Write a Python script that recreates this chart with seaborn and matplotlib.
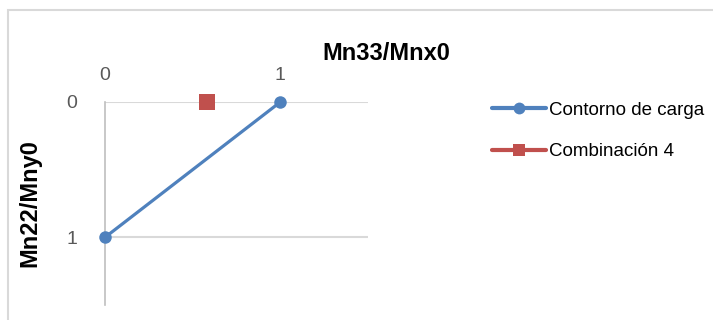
import matplotlib
matplotlib.use("Agg")
import matplotlib.pyplot as plt
import seaborn as sns
import pandas as pd
from matplotlib.patches import Rectangle

# Data
contorno_x = [0, 1]
contorno_y = [1, 0]
comb_x = [0.58]
comb_y = [0]
series_names = ["Contorno de carga", "Combinación 4"]
x_ticks = [0, 1]
y_ticks = [0, 1]
x_title = "Mn33/Mnx0"
y_title = "Mn22/Mny0"

sns.set_theme(style="white")
plt.rcParams['font.family'] = ['Liberation Sans', 'DejaVu Sans']

fig = plt.figure(figsize=(7.13, 3.2), dpi=100)
ax = fig.add_axes([105/713, 1 - 305/320, (368 - 105)/713, (305 - 102)/320])

df1 = pd.DataFrame({"x": contorno_x, "y": contorno_y})
df2 = pd.DataFrame({"x": comb_x, "y": comb_y})

sns.lineplot(data=df1, x="x", y="y", ax=ax, sort=False, color="#4F81BD",
             linewidth=2.3, marker="o", markersize=9, markeredgewidth=0,
             label=series_names[0], clip_on=False, zorder=5)
sns.lineplot(data=df2, x="x", y="y", ax=ax, sort=False, color="#C0504D",
             linewidth=2.3, marker="s", markersize=12, markeredgewidth=0,
             label=series_names[1], clip_on=False, zorder=5)

ax.set_xlim(0, 1.5)
ax.set_ylim(1.5, 0)
ax.set_xticks(x_ticks)
ax.set_yticks(y_ticks)
ax.xaxis.tick_top()
ax.tick_params(axis="both", length=0, labelsize=14, colors="#595959")
ax.tick_params(axis="x", pad=13)
ax.tick_params(axis="y", pad=20)

for s in ["right", "bottom", "top"]:
    ax.spines[s].set_visible(False)
ax.spines["left"].set_color("#BFBFBF")
ax.spines["left"].set_linewidth(1.2)

ax.grid(False)
for yv in y_ticks:
    ax.axhline(yv, color="#D9D9D9", linewidth=1.5, zorder=1)

ax.set_xlabel("")
ax.set_ylabel("")
fig.text(386/713, 1 - 54/320, x_title, ha="center", va="center",
         fontsize=17, fontweight="bold", color="black")
fig.text(30/713, 1 - 203/320, y_title, ha="center", va="center",
         rotation=90, fontsize=17, fontweight="bold", color="black")

leg = ax.legend(loc="upper left", bbox_to_anchor=(484/713, 1 - 94/320),
                bbox_transform=fig.transFigure, frameon=False,
                fontsize=13.5, handlelength=2.9, handletextpad=0.15,
                labelspacing=1.3, borderaxespad=0)
for t in leg.get_texts():
    t.set_color("black")
for h in leg.legend_handles:
    h.set_markersize(8.5)
    h.set_linewidth(3)

fig.patches.append(Rectangle((8/713, -0.1), 1.2, 1 - 10/320 + 0.1,
                             transform=fig.transFigure, fill=False,
                             edgecolor="#D9D9D9", linewidth=1.5))

fig.savefig("out.png", dpi=100)
